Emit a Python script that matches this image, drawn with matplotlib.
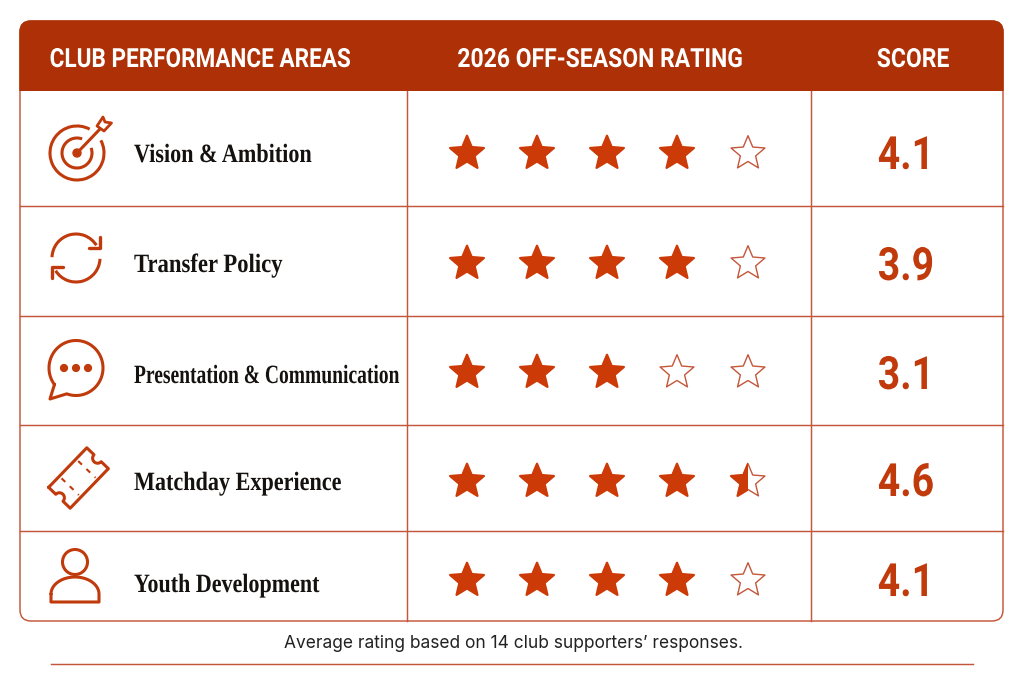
import numpy as np
import matplotlib
matplotlib.use('Agg')
import matplotlib.pyplot as plt
from matplotlib.patches import Circle, FancyBboxPatch, Polygon, Rectangle, Arc
from matplotlib.patheffects import AbstractPathEffect
from matplotlib.transforms import Affine2D

areas = ['Vision & Ambition', 'Transfer Policy', 'Presentation & Communication',
         'Matchday Experience', 'Youth Development']
scores = [4.1, 3.9, 3.1, 4.6, 4.1]
stars_filled = [4, 4, 3, 4.5, 4]
headers = ['CLUB PERFORMANCE AREAS', '2026 OFF-SEASON RATING', 'SCORE']
footnote = 'Average rating based on 14 club supporters\u2019 responses.'

RED = '#c03a0c'
HEAD = '#ad3006'
LINE = '#c4563a'
STAR = '#cc3a08'
INK = '#14110f'

row_edges = [91, 206, 316, 425, 531, 621]
star_y = [153.5, 263.5, 372.5, 481.5, 580.5]
star_x = [467, 537, 607, 677, 748]
label_base = [162, 272, 383, 490, 592]
label_squeeze = [0.84, 0.86, 0.74, 0.84, 0.835]
score_base = [169, 280, 389, 496, 596]
head_x = [200, 600, 913]
head_squeeze = [0.855, 0.87, 0.87]
left, right, col1, col2 = 20, 1003, 407, 811
top, bottom = 21, 621

fig = plt.figure(figsize=(10.24, 6.83), dpi=100)
ax = fig.add_axes([0, 0, 1, 1])
ax.set_xlim(0, 1024)
ax.set_ylim(683, 0)
ax.axis('off')


class Squeeze(AbstractPathEffect):
    # no condensed fonts here, so narrow the glyphs around the text anchor
    def __init__(self, sx, x0):
        super().__init__()
        self.sx = sx
        self.x0 = x0

    def draw_path(self, renderer, gc, tpath, affine, rgbFace=None):
        squeeze = Affine2D().translate(-self.x0, 0).scale(self.sx, 1).translate(self.x0, 0)
        renderer.draw_path(gc, tpath, affine + squeeze, rgbFace)


def star_points(cx, cy, r=17.8):
    ang = np.radians(-90 + 36 * np.arange(10))
    rad = np.where(np.arange(10) % 2 == 0, r, r * 0.45)
    return np.column_stack([cx + rad * np.cos(ang), cy + rad * np.sin(ang)])


def draw_star(cx, cy, fill):
    pts = star_points(cx, cy)
    if fill >= 1:
        ax.add_patch(Polygon(pts, fc=STAR, ec=STAR, lw=1.6, joinstyle='round', zorder=3))
        return
    ax.add_patch(Polygon(pts, fc='white', ec=LINE, lw=1, joinstyle='round', zorder=3))
    if fill > 0:
        p = Polygon(pts, fc=STAR, ec=STAR, lw=1.6, joinstyle='round', zorder=4)
        ax.add_patch(p)
        p.set_clip_path(Rectangle((cx - 30, cy - 30), 30, 60, transform=ax.transData))


def line(xs, ys, lw=2.2, **kw):
    ax.plot(xs, ys, color=RED, lw=lw, solid_capstyle='round', solid_joinstyle='round', **kw)


def icon_target():
    cx, cy = 77, 153
    ax.add_patch(Arc((cx, cy), 54, 54, theta1=-28, theta2=298, color=RED, lw=2.2))
    ax.add_patch(Arc((cx, cy), 30, 30, theta1=-20, theta2=290, color=RED, lw=2.2))
    ax.add_patch(Circle((cx, cy), 4, color=RED))
    line([cx, 100], [cy, 129])
    ax.add_patch(Polygon([(97, 126), (103, 117), (105, 122), (111.5, 123), (104, 131)],
                         fc='white', ec=RED, lw=2, joinstyle='round', zorder=3))


def icon_refresh():
    cx, cy = 76, 258
    ax.add_patch(Arc((cx, cy), 48, 48, theta1=182, theta2=328, color=RED, lw=2.2))
    ax.add_patch(Arc((cx, cy), 48, 48, theta1=2, theta2=148, color=RED, lw=2.2))
    line([99.5, 99.5, 89], [237, 248, 248], lw=2.4)
    line([52, 52, 63], [278, 267, 267], lw=2.4)


def icon_chat():
    cx, cy = 76, 368
    ang = np.radians(np.linspace(143, 470, 80))
    xs = cx + 27 * np.cos(ang)
    ys = cy + 27.5 * np.sin(ang)
    # round the bubble, out to the tail tip and back to the start
    line(np.concatenate([xs, [50, xs[0]]]), np.concatenate([ys, [399, ys[0]]]))
    for dx in (-12, 0, 12):
        ax.add_patch(Circle((cx + dx, cy), 3.4, color=RED))


def icon_ticket():
    cx, cy = 78.5, 478
    w, h = 27.5, 15
    t = np.radians(-46)
    rot = np.array([[np.cos(t), -np.sin(t)], [np.sin(t), np.cos(t)]])
    a = np.radians(np.linspace(-90, 90, 16))
    end_r = np.column_stack([w - 5 * np.cos(a), 5 * np.sin(a)])
    end_l = np.column_stack([-w + 5 * np.cos(a), 5 * np.sin(a)])[::-1]
    pts = np.vstack([[[-w, -h], [w, -h]], end_r, [[w, h], [-w, h]], end_l, [[-w, -h]]])
    pts = pts @ rot.T + [cx, cy]
    line(pts[:, 0], pts[:, 1], lw=2.2)
    for dx in (-12, 12):
        seg = np.array([[dx, -h + 3], [dx, h - 3]]) @ rot.T + [cx, cy]
        ax.plot(seg[:, 0], seg[:, 1], color=RED, lw=1.5, ls=(0, (2.5, 3)))


def icon_person():
    cx, cy = 75, 576
    ax.add_patch(Circle((cx, cy - 14), 12.5, fc='none', ec=RED, lw=2.2))
    ang = np.radians(np.linspace(180, 360, 40))
    xs = np.concatenate([cx + 24 * np.cos(ang), [cx + 24, cx - 24, cx - 24]])
    ys = np.concatenate([cy + 18 + 17 * np.sin(ang), [cy + 26, cy + 26, cy + 18]])
    line(xs, ys)


# table frame, header band and grid
ax.add_patch(FancyBboxPatch((left, top), right - left, bottom - top, boxstyle='round,pad=0,rounding_size=11',
                            fc='white', ec=LINE, lw=1.05, zorder=1))
band = FancyBboxPatch((left, top), right - left, bottom - top, boxstyle='round,pad=0,rounding_size=11',
                      fc=HEAD, ec=HEAD, lw=1, zorder=2)
ax.add_patch(band)
band.set_clip_path(Rectangle((0, 0), 1024, row_edges[0], transform=ax.transData))
for y in row_edges[1:-1]:
    ax.plot([left, right], [y, y], color=LINE, lw=1.05, zorder=2)
for x in (col1, col2):
    ax.plot([x, x], [row_edges[0], bottom], color=LINE, lw=1.05, zorder=2)

for x, h, sq in zip(head_x, headers, head_squeeze):
    ax.text(x, 67, h, color='white', family='Roboto', weight='bold', fontsize=19,
            ha='center', va='baseline', zorder=5, path_effects=[Squeeze(sq, x)])

for draw_icon in [icon_target, icon_refresh, icon_chat, icon_ticket, icon_person]:
    draw_icon()

for i, name in enumerate(areas):
    ax.text(134, label_base[i], name, color=INK, family='Liberation Serif', weight='bold',
            fontsize=19, ha='left', va='baseline', zorder=5,
            path_effects=[Squeeze(label_squeeze[i], 134)])
    for k, x in enumerate(star_x):
        draw_star(x, star_y[i], np.clip(stars_filled[i] - k, 0, 1))
    ax.text(906, score_base[i], f'{scores[i]:.1f}', color=RED, family='Roboto', weight='bold',
            fontsize=33, ha='center', va='baseline', zorder=5, path_effects=[Squeeze(0.855, 906)])

ax.text(514, 643.5, footnote, color='#222222', family='Inter', fontsize=12.5, ha='center', va='center')
ax.plot([51, 973], [664, 664], color=LINE, lw=1.05)

fig.savefig('out.png', dpi=100, facecolor='white')
